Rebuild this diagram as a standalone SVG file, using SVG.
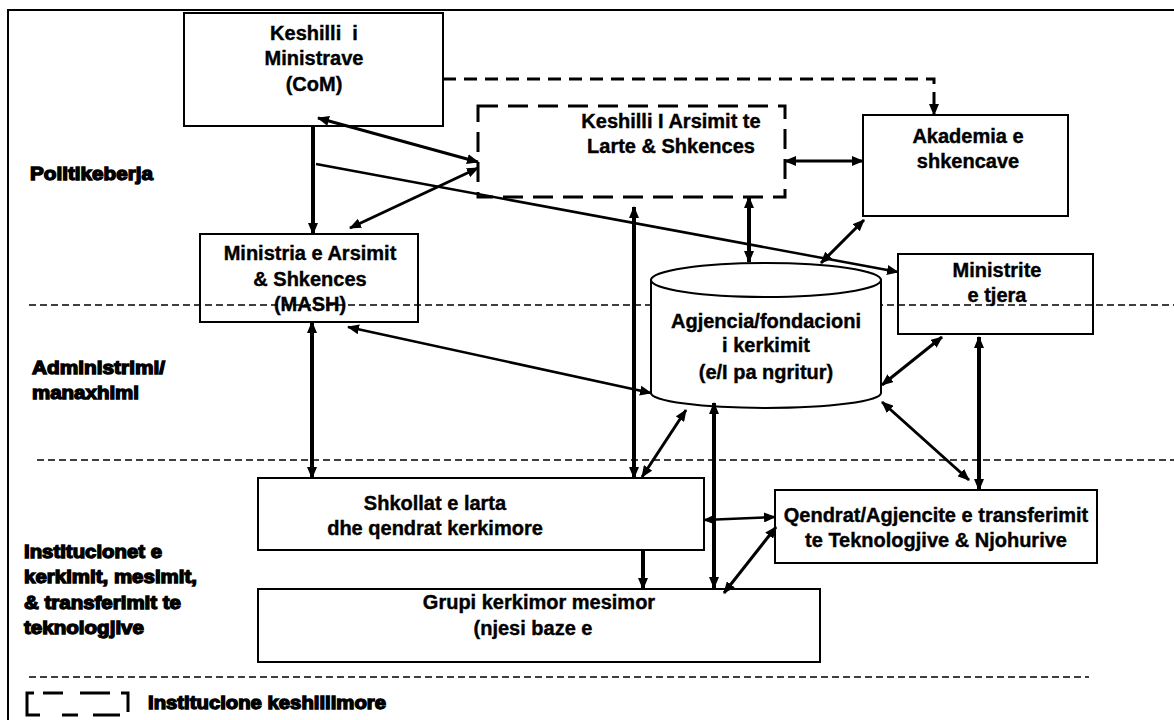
<svg xmlns="http://www.w3.org/2000/svg" width="1174" height="720" viewBox="0 0 1174 720">
<style>
.box{fill:#fff;stroke:#000;stroke-width:2}
.dbox{fill:#fff;stroke:#000;stroke-width:3;stroke-dasharray:20 10}
.t{font-family:"Liberation Sans",Arial,sans-serif;font-weight:bold;font-size:20px;fill:#000;stroke:#000;stroke-width:0.4;text-anchor:middle}
.lab{font-family:"Liberation Sans",Arial,sans-serif;font-weight:bold;font-size:18px;fill:#000;stroke:#000;stroke-width:1.3}
.sep{stroke:#000;stroke-width:1.6;stroke-dasharray:7 4;fill:none}
.c{fill:none;stroke:#000;stroke-width:3}
.c4{fill:none;stroke:#000;stroke-width:4}
.ct{fill:none;stroke:#000;stroke-width:2.5}
.both{marker-start:url(#ah);marker-end:url(#ah)}
.end{marker-end:url(#ah)}
</style>
<defs>
<marker id="ah" markerUnits="userSpaceOnUse" markerWidth="12" markerHeight="10" refX="11" refY="5" orient="auto-start-reverse">
<path d="M0,0 L12,5 L0,10 z" fill="#000"/>
</marker>
</defs>
<rect x="0" y="0" width="1174" height="720" fill="#fff"/>
<rect x="8" y="10" width="1180" height="720" fill="none" stroke="#000" stroke-width="2"/>

<g id="labels">
<text class="lab" x="30" y="180" textLength="123" lengthAdjust="spacingAndGlyphs">Politikeberja</text>
<text class="lab" x="32" y="374" textLength="133" lengthAdjust="spacingAndGlyphs">Administrimi/</text>
<text class="lab" x="32" y="399" textLength="107" lengthAdjust="spacingAndGlyphs">manaxhimi</text>
<text class="lab" x="24" y="558" textLength="138" lengthAdjust="spacingAndGlyphs">Institucionet e</text>
<text class="lab" x="24" y="583" textLength="173" lengthAdjust="spacingAndGlyphs">kerkimit, mesimit,</text>
<text class="lab" x="24" y="609" textLength="157" lengthAdjust="spacingAndGlyphs">&amp; transferimit te</text>
<text class="lab" x="24" y="634" textLength="120" lengthAdjust="spacingAndGlyphs">teknologjive</text>
</g>

<g id="com">
<rect class="box" x="184" y="13" width="259" height="113"/>
<text class="t" x="314" y="40" xml:space="preserve">Keshilli  i</text>
<text class="t" x="314" y="65">Ministrave</text>
<text class="t" x="314" y="91">(CoM)</text>
</g>

<g id="keshilli-arsimit">
<rect class="dbox" x="478" y="106" width="307" height="91"/>
<text class="t" x="671" y="128">Keshilli I Arsimit te</text>
<text class="t" x="671" y="153">Larte &amp; Shkences</text>
</g>

<g id="akademia">
<rect class="box" x="863" y="115" width="205" height="101"/>
<text class="t" x="968" y="143">Akademia e</text>
<text class="t" x="968" y="168">shkencave</text>
</g>

<g id="mash">
<rect class="box" x="200" y="234" width="218" height="88"/>
<text class="t" x="310" y="260">Ministria e Arsimit</text>
<text class="t" x="310" y="286">&amp; Shkences</text>
<text class="t" x="310" y="311">(MASH)</text>
</g>

<g id="ministrite">
<rect class="box" x="898" y="254" width="195" height="80"/>
<text class="t" x="997" y="277">Ministrite</text>
<text class="t" x="997" y="302">e tjera</text>
</g>

<g id="separators">
<line class="sep" x1="29" y1="305" x2="1174" y2="305"/>
<line class="sep" x1="37" y1="460" x2="1174" y2="460"/>
<line class="sep" x1="29" y1="677" x2="1089" y2="677"/>
</g>

<g id="agjencia">
<path d="M651,280 L651,393 A115,15 0 0 0 881,393 L881,280 Z" fill="#fff" stroke="#000" stroke-width="2"/>
<ellipse cx="766" cy="280" rx="115" ry="17" fill="#fff" stroke="#000" stroke-width="2"/>
<text class="t" x="766" y="328">Agjencia/fondacioni</text>
<text class="t" x="766" y="352">i kerkimit</text>
<text class="t" x="766" y="379">(e/I pa ngritur)</text>
</g>

<g id="shkollat">
<rect class="box" x="258" y="478" width="446" height="72"/>
<text class="t" x="435" y="510">Shkollat e larta</text>
<text class="t" x="435" y="535">dhe qendrat kerkimore</text>
</g>

<g id="grupi">
<rect class="box" x="258" y="589" width="562" height="73"/>
<text class="t" x="539" y="609">Grupi kerkimor mesimor</text>
<text class="t" x="533" y="635">(njesi baze e</text>
</g>

<g id="qendrat">
<rect class="box" x="775" y="490" width="322" height="73"/>
<text class="t" x="936" y="522">Qendrat/Agjencite e transferimit</text>
<text class="t" x="936" y="547">te Teknologjive &amp; Njohurive</text>
</g>

<g id="connectors">
<path class="c end" d="M443,79 L934,79 L934,115" stroke-dasharray="13 8"/>
<line class="c4 end" x1="313" y1="126" x2="313" y2="234"/>
<line class="c both" x1="318" y1="118" x2="478" y2="162"/>
<line class="c both" x1="350" y1="228" x2="478" y2="168"/>
<line class="ct end" x1="316" y1="164" x2="898" y2="272"/>
<line class="c both" x1="785" y1="161" x2="863" y2="161"/>
<line class="c4 both" x1="749" y1="197" x2="749" y2="262"/>
<line class="c both" x1="864" y1="220" x2="821" y2="263"/>
<line class="c4 both" x1="634" y1="207" x2="634" y2="478"/>
<line class="ct both" x1="348" y1="327" x2="651" y2="393"/>
<line class="c4 both" x1="312" y1="322" x2="312" y2="478"/>
<line class="c both" x1="686" y1="410" x2="642" y2="477"/>
<line class="c4 both" x1="714" y1="403" x2="714" y2="588"/>
<line class="ct both" x1="704" y1="520" x2="775" y2="517"/>
<line class="c4 end" x1="643" y1="550" x2="643" y2="589"/>
<line class="c both" x1="724" y1="593" x2="776" y2="527"/>
<line class="c both" x1="882" y1="385" x2="942" y2="337"/>
<line class="c4 both" x1="979" y1="337" x2="979" y2="490"/>
<line class="c both" x1="882" y1="402" x2="969" y2="480"/>
</g>

<g id="legend">
<path d="M34,693 L27,693 L27,715 L40,715" fill="none" stroke="#000" stroke-width="3"/>
<line x1="43" y1="693" x2="63" y2="693" stroke="#000" stroke-width="3"/>
<line x1="80" y1="693" x2="110" y2="693" stroke="#000" stroke-width="3"/>
<path d="M121,693 L128,693 L128,712" fill="none" stroke="#000" stroke-width="3"/>
<line x1="62" y1="715" x2="78" y2="715" stroke="#000" stroke-width="3"/>
<line x1="93" y1="715" x2="120" y2="715" stroke="#000" stroke-width="3"/>
<text class="lab" x="148" y="709" textLength="238" lengthAdjust="spacingAndGlyphs">Institucione keshillimore</text>
</g>
</svg>
